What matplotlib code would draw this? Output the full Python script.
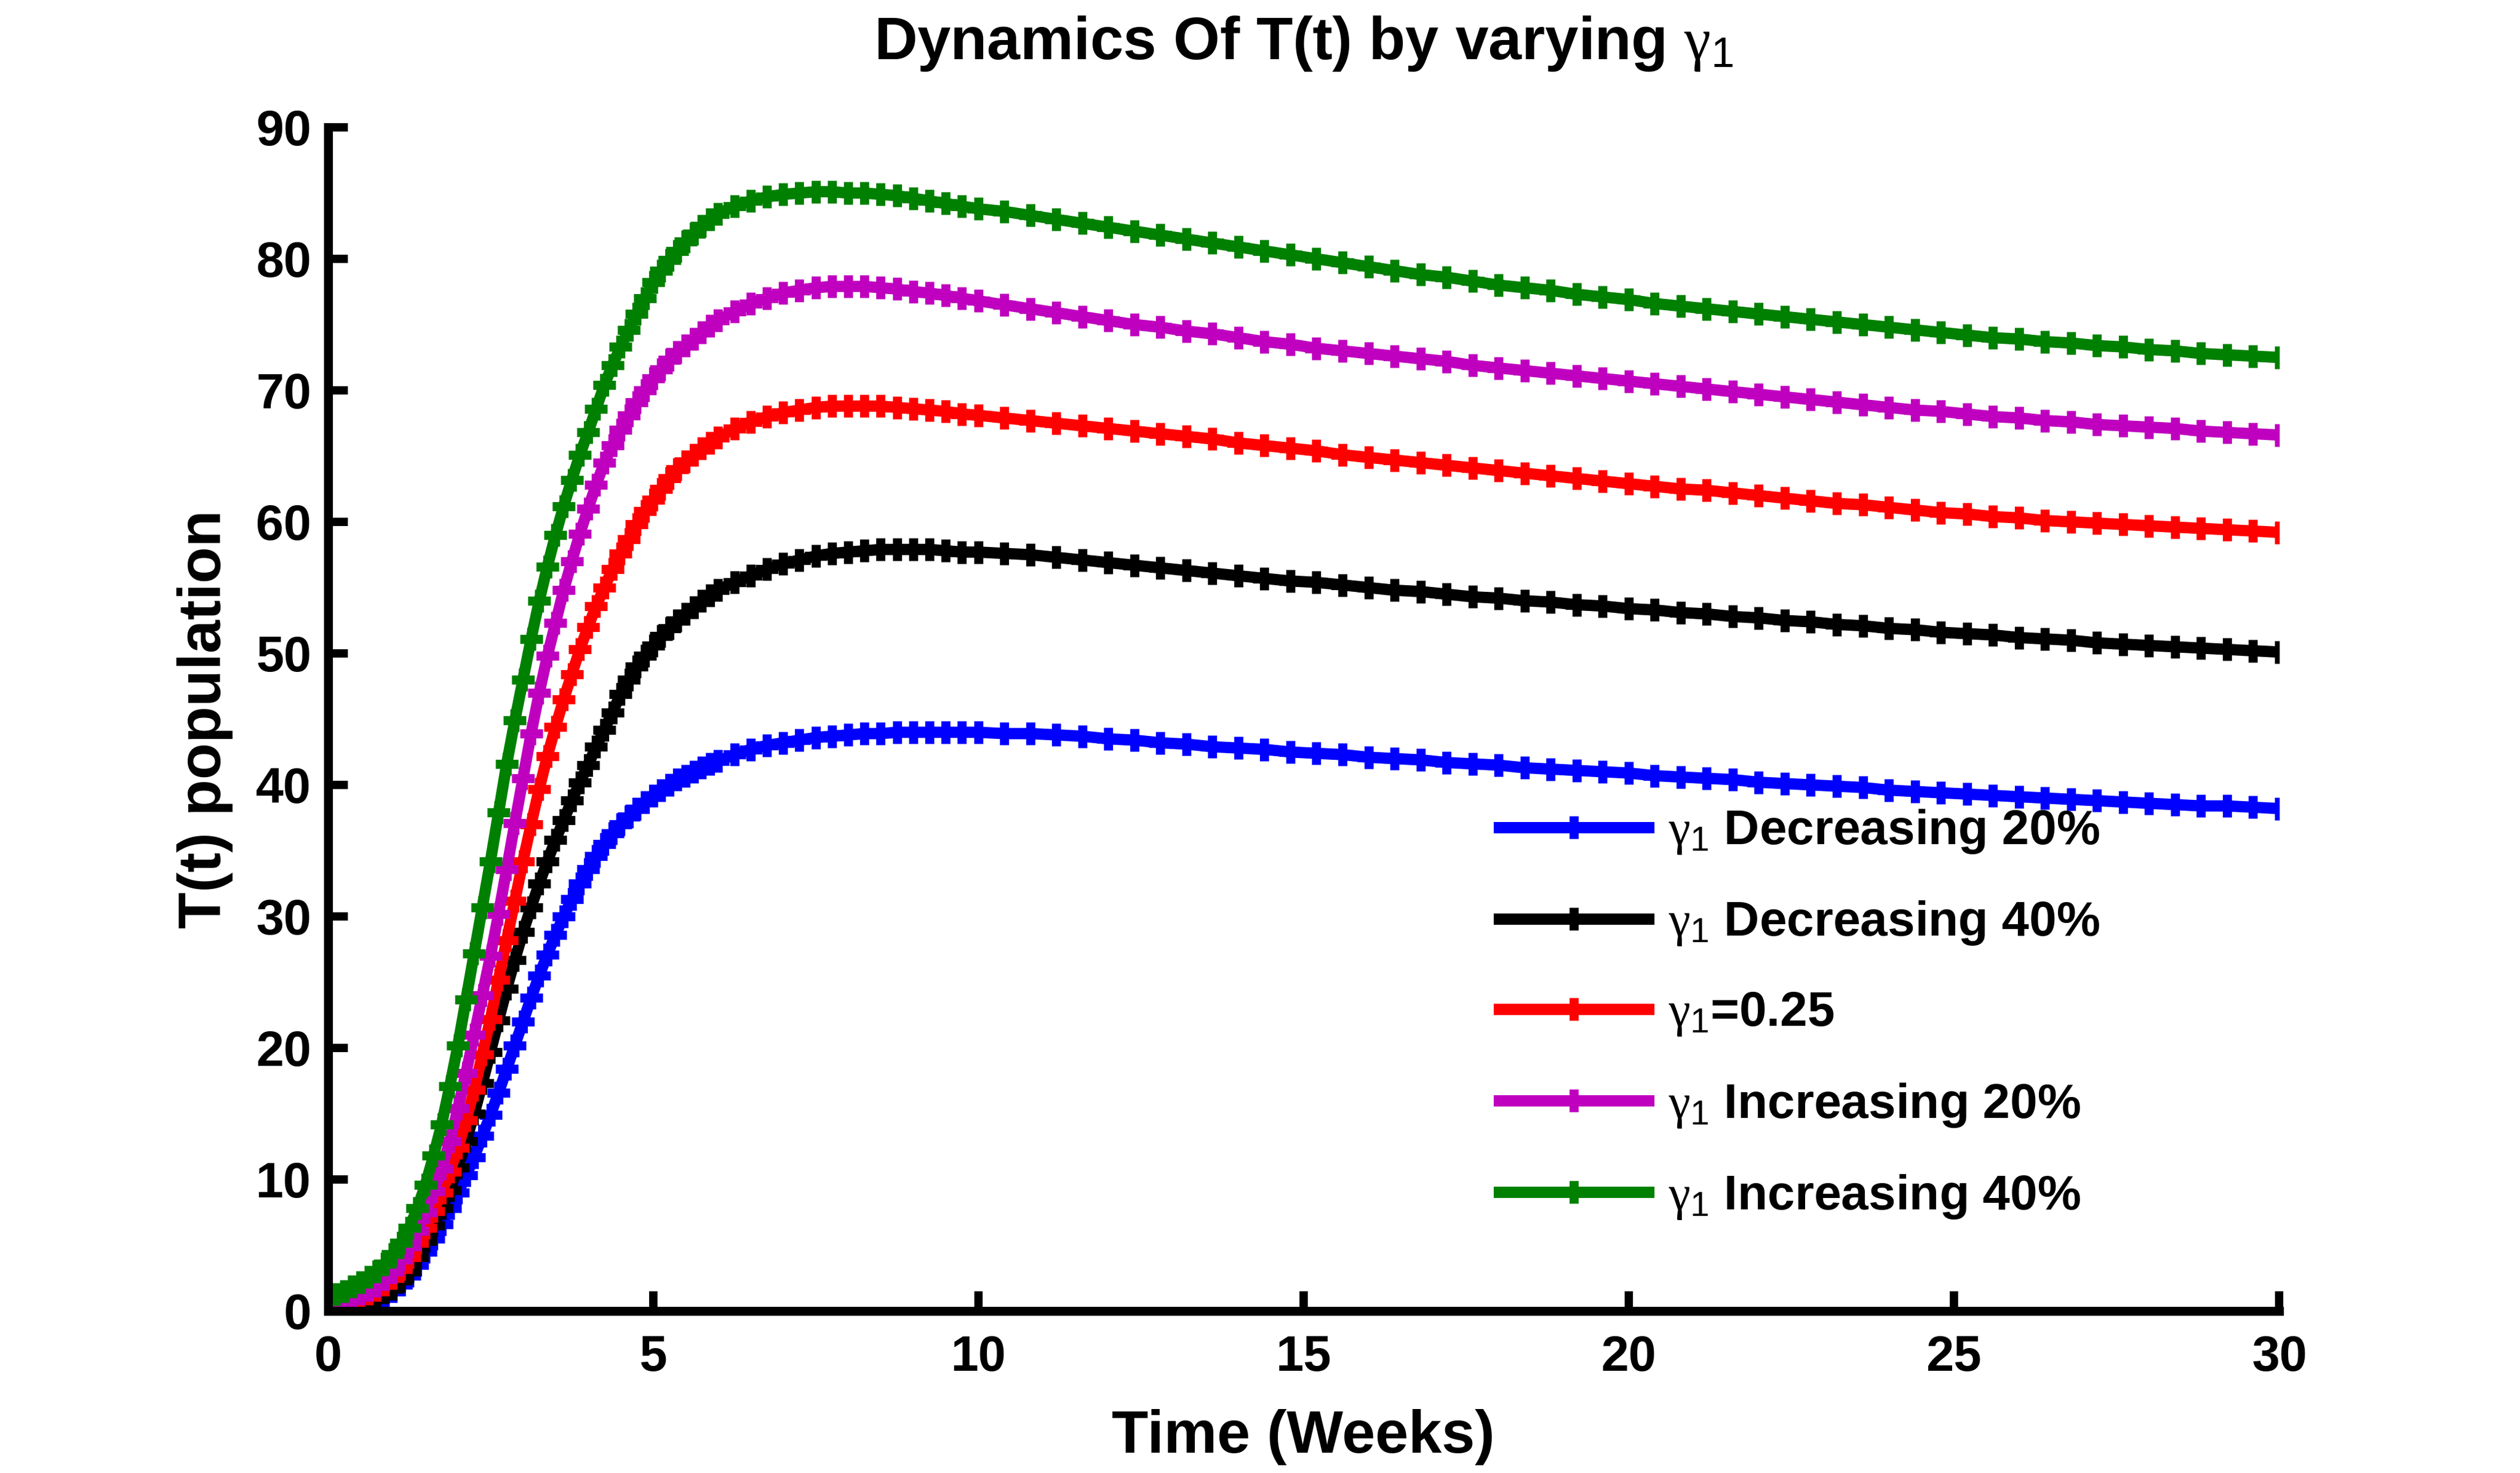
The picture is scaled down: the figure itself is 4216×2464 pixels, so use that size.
import matplotlib.pyplot as plt

# time grid (weeks) - solver output points
weeks = [0.0, 0.125, 0.25, 0.375, 0.5, 0.625, 0.75, 0.875,
         1.0, 1.125, 1.25, 1.375, 1.5, 1.625, 1.75, 1.875,
         2.0, 2.125, 2.25, 2.375, 2.5, 2.625, 2.75, 2.875,
         3.0, 3.125, 3.25, 3.375, 3.5, 3.625, 3.75, 3.875,
         4.0, 4.125, 4.25, 4.375, 4.5, 4.625, 4.75, 4.875,
         5.0, 5.125, 5.25, 5.375, 5.5, 5.625, 5.75, 5.875, 6.0,
         6.25, 6.5, 6.75, 7.0, 7.25, 7.5, 7.75, 8.0,
         8.25, 8.5, 8.75, 9.0, 9.25, 9.5, 9.75, 10.0,
         10.4, 10.8, 11.2, 11.6, 12.0, 12.4, 12.8, 13.2, 13.6, 14.0,
         14.4, 14.8, 15.2, 15.6, 16.0, 16.4, 16.8, 17.2, 17.6, 18.0,
         18.4, 18.8, 19.2, 19.6, 20.0, 20.4, 20.8, 21.2, 21.6, 22.0,
         22.4, 22.8, 23.2, 23.6, 24.0, 24.4, 24.8, 25.2, 25.6, 26.0,
         26.4, 26.8, 27.2, 27.6, 28.0, 28.4, 28.8, 29.2, 29.6, 30.0]

dec20 = [0.5, 0.55, 0.6, 0.65, 0.75, 0.85, 1.0, 1.2,
         1.5, 2.0, 2.7, 3.5, 4.5, 5.5, 6.6, 7.8,
         9.0, 10.3, 11.7, 13.3, 14.9, 16.6, 18.4, 20.2,
         22.0, 23.8, 25.5, 27.1, 28.6, 30.0, 31.3, 32.5,
         33.6, 34.6, 35.5, 36.3, 37.0, 37.6, 38.2, 38.7,
         39.2, 39.6, 40.0, 40.4, 40.7, 41.0, 41.3, 41.6, 41.8,
         42.3, 42.7, 43.0, 43.2, 43.4, 43.6, 43.7, 43.8,
         43.9, 43.9, 44.0, 44.0, 44.0, 44.0, 44.0, 44.0,
         43.9, 43.9, 43.8, 43.7, 43.5, 43.4, 43.2, 43.1, 42.9, 42.8,
         42.7, 42.5, 42.4, 42.3, 42.1, 42.0, 41.9, 41.7, 41.6, 41.5,
         41.3, 41.2, 41.1, 41.0, 40.9, 40.7, 40.6, 40.5, 40.4, 40.2,
         40.1, 40.0, 39.9, 39.8, 39.6, 39.5, 39.4, 39.3, 39.2, 39.1,
         39.0, 38.9, 38.8, 38.7, 38.6, 38.5, 38.4, 38.4, 38.3, 38.2]

dec40 = [0.5, 0.55, 0.6, 0.7, 0.8, 0.9, 1.1, 1.4,
         1.7, 2.3, 3.0, 4.1, 5.3, 6.5, 7.8, 9.2,
         10.9, 12.9, 15.0, 17.3, 19.7, 22.1, 24.5, 26.7,
         28.8, 30.7, 32.5, 34.2, 35.8, 37.3, 38.8, 40.2,
         41.5, 42.9, 44.2, 45.5, 46.9, 48.0, 49.0, 49.8,
         50.6, 51.3, 51.9, 52.5, 53.0, 53.5, 54.0, 54.4, 54.8,
         55.4, 55.9, 56.4, 56.8, 57.1, 57.4, 57.6, 57.7,
         57.8, 57.9, 57.9, 57.9, 57.9, 57.8, 57.7, 57.7,
         57.6, 57.5, 57.3, 57.1, 56.9, 56.7, 56.5, 56.3, 56.1, 55.9,
         55.7, 55.5, 55.4, 55.2, 55.0, 54.8, 54.7, 54.5, 54.3, 54.2,
         54.0, 53.9, 53.7, 53.6, 53.4, 53.3, 53.1, 53.0, 52.8, 52.7,
         52.5, 52.4, 52.2, 52.1, 51.9, 51.8, 51.6, 51.5, 51.4, 51.2,
         51.1, 51.0, 50.8, 50.7, 50.6, 50.5, 50.4, 50.3, 50.2, 50.1]

base = [0.5, 0.6, 0.7, 0.9, 1.1, 1.3, 1.6, 2.0,
        2.5, 3.2, 4.1, 5.2, 6.3, 7.6, 9.0, 10.6,
        12.4, 14.5, 16.8, 19.5, 22.2, 25.2, 28.2, 31.2,
        34.2, 37.0, 39.7, 42.2, 44.4, 46.5, 48.4, 50.3,
        52.0, 53.6, 55.0, 56.4, 57.6, 58.7, 59.8, 60.8,
        61.7, 62.5, 63.3, 64.0, 64.6, 65.1, 65.6, 66.0, 66.4,
        67.1, 67.6, 68.0, 68.3, 68.5, 68.7, 68.8, 68.8,
        68.8, 68.8, 68.7, 68.6, 68.5, 68.4, 68.2, 68.1,
        67.9, 67.7, 67.5, 67.3, 67.1, 66.9, 66.7, 66.5, 66.3, 66.0,
        65.8, 65.6, 65.4, 65.1, 64.9, 64.7, 64.5, 64.3, 64.1, 63.9,
        63.7, 63.5, 63.3, 63.1, 62.9, 62.7, 62.5, 62.4, 62.2, 62.0,
        61.8, 61.6, 61.4, 61.3, 61.1, 60.9, 60.7, 60.6, 60.4, 60.3,
        60.1, 60.0, 59.9, 59.8, 59.7, 59.6, 59.5, 59.4, 59.3, 59.2]

inc20 = [0.5, 0.65, 0.8, 1.0, 1.3, 1.6, 1.9, 2.4,
         3.0, 3.9, 4.9, 6.1, 7.5, 9.1, 10.8, 12.9,
         15.4, 18.1, 21.0, 24.0, 27.0, 30.2, 33.6, 37.1,
         40.5, 43.9, 47.0, 49.8, 52.3, 54.8, 57.0, 59.1,
         61.0, 62.8, 64.5, 65.8, 67.0, 68.1, 69.1, 70.0,
         70.9, 71.6, 72.3, 72.9, 73.4, 73.9, 74.4, 74.9, 75.3,
         76.0, 76.6, 77.0, 77.4, 77.6, 77.8, 77.9, 77.9,
         77.9, 77.8, 77.7, 77.5, 77.4, 77.2, 77.0, 76.8,
         76.5, 76.2, 75.9, 75.6, 75.3, 75.0, 74.8, 74.5, 74.3, 74.0,
         73.7, 73.5, 73.2, 73.0, 72.8, 72.6, 72.4, 72.2, 71.9, 71.7,
         71.5, 71.3, 71.1, 70.9, 70.7, 70.5, 70.3, 70.1, 69.9, 69.7,
         69.5, 69.3, 69.1, 68.9, 68.7, 68.5, 68.4, 68.2, 68.0, 67.9,
         67.7, 67.6, 67.4, 67.3, 67.2, 67.1, 66.9, 66.8, 66.7, 66.6]

inc40 = [1.0, 1.25, 1.5, 1.85, 2.2, 2.6, 3.0, 3.6,
         4.3, 5.2, 6.3, 7.8, 9.6, 11.8, 14.2, 17.1,
         20.2, 23.7, 27.2, 30.7, 34.2, 37.9, 41.6, 44.9,
         48.0, 51.1, 54.0, 56.6, 59.0, 61.2, 63.2, 65.1,
         66.8, 68.6, 70.4, 71.9, 73.3, 74.6, 75.8, 77.0,
         78.2, 79.1, 79.9, 80.6, 81.3, 81.9, 82.5, 83.0, 83.4,
         84.0, 84.4, 84.7, 84.9, 85.0, 85.1, 85.1, 85.0,
         85.0, 84.9, 84.8, 84.6, 84.4, 84.2, 84.0, 83.8,
         83.6, 83.3, 83.0, 82.7, 82.4, 82.1, 81.8, 81.5, 81.2, 80.9,
         80.6, 80.3, 80.0, 79.7, 79.4, 79.1, 78.8, 78.6, 78.3, 78.0,
         77.8, 77.6, 77.3, 77.1, 76.9, 76.6, 76.4, 76.2, 76.0, 75.8,
         75.6, 75.4, 75.2, 75.0, 74.8, 74.6, 74.4, 74.2, 74.0, 73.9,
         73.7, 73.6, 73.4, 73.3, 73.1, 73.0, 72.8, 72.7, 72.6, 72.5]

labels = [r"$\gamma_1$ Decreasing 20%", r"$\gamma_1$ Decreasing 40%",
          r"$\gamma_1$=0.25", r"$\gamma_1$ Increasing 20%",
          r"$\gamma_1$ Increasing 40%"]
colors = ["#0000FF", "#000000", "#FF0000", "#BF00BF", "#008000"]

plt.rcParams["font.family"] = ["Liberation Sans", "DejaVu Sans"]
plt.rcParams["font.weight"] = "bold"
# thin gamma and plain subscript, like the MATLAB TeX interpreter
plt.rcParams["mathtext.fontset"] = "custom"
plt.rcParams["mathtext.rm"] = "Liberation Sans:normal"
plt.rcParams["mathtext.it"] = "Liberation Serif:normal"
plt.rcParams["mathtext.bf"] = "Liberation Sans:bold"

fig = plt.figure(figsize=(21.08, 12.32), dpi=200)
ax = fig.add_axes([0.1301, 0.1100, 0.7743, 0.8036])

for vals, col, lab in zip([dec20, dec40, base, inc20, inc40], colors, labels):
    ax.plot(weeks, vals, color=col, lw=6.8, marker="+", ms=14, mew=5.5,
            label=lab)

ax.set_xlim(0, 30)
ax.set_ylim(0, 90)
ax.set_xticks(range(0, 31, 5))
ax.set_yticks(range(0, 91, 10))
for s in ["top", "right"]:
    ax.spines[s].set_visible(False)
for s in ["left", "bottom"]:
    ax.spines[s].set_linewidth(5.4)
ax.tick_params(direction="in", length=12, width=5, labelsize=30)
ax.tick_params(axis="x", pad=14)
ax.tick_params(axis="y", pad=10)

ax.set_title(r"Dynamics Of T(t) by varying $\gamma_1$", fontsize=36,
             fontweight="bold", pad=41)
ax.set_xlabel("Time (Weeks)", fontsize=36, fontweight="bold")
ax.xaxis.set_label_coords(0.5, -0.083)
ax.set_ylabel("T(t) population", fontsize=36, fontweight="bold")
ax.yaxis.set_label_coords(-0.0486, 0.5)

ax.legend(loc="center left", bbox_to_anchor=(0.5949, 0.3113),
          bbox_transform=fig.transFigure, frameon=False, fontsize=29.5,
          handlelength=3.05, handletextpad=0.4, labelspacing=0.88,
          borderpad=0, borderaxespad=0)

fig.savefig("out.png", dpi=200)
